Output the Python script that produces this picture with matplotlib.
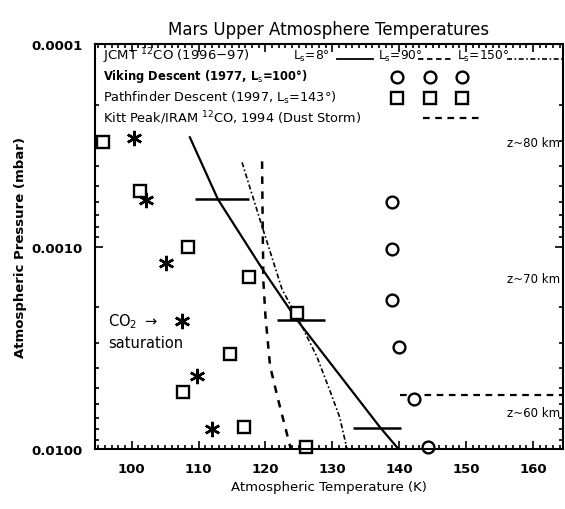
import matplotlib
matplotlib.use("Agg")
import matplotlib.pyplot as plt
from matplotlib.lines import Line2D
from matplotlib.ticker import FixedLocator, FixedFormatter, LogLocator, NullFormatter, MultipleLocator

# ---------------- data ----------------
# JCMT 12CO profiles
jcmt8_T = [108.7, 112.9, 119.6, 124.7, 137.1, 139.9]
jcmt8_P = [2.89e-4, 5.85e-4, 1.30e-3, 2.30e-3, 7.78e-3, 1.0e-2]

jcmt90_T = [119.5, 119.6, 119.7, 120.0, 120.7, 121.9, 123.8]
jcmt90_P = [3.8e-4, 8.5e-4, 1.5e-3, 2.2e-3, 3.9e-3, 5.7e-3, 1.0e-2]

jcmt150_T = [116.5, 119.5, 122.5, 125.2, 127.7, 129.6, 131.1, 132.2]
jcmt150_P = [3.84e-4, 7.96e-4, 1.63e-3, 2.38e-3, 3.50e-3, 5.11e-3, 6.95e-3, 1.0e-2]

# error bars on JCMT Ls=8 profile
err_T = [113.5, 125.3, 136.7]
err_P = [5.85e-4, 2.30e-3, 7.87e-3]
err_dT = [4.1, 3.6, 3.65]

# Viking descent
viking_T = [138.9, 138.9, 138.9, 140.0, 142.2, 144.3]
viking_P = [6.0e-4, 1.03e-3, 1.83e-3, 3.13e-3, 5.65e-3, 9.8e-3]

# Pathfinder descent
pf_T = [95.7, 101.2, 108.4, 117.5, 124.7, 114.7, 107.6, 116.8, 126.0]
pf_P = [3.06e-4, 5.3e-4, 1.01e-3, 1.41e-3, 2.12e-3, 3.39e-3, 5.2e-3, 7.8e-3, 9.8e-3]

# CO2 saturation
sat_T = [100.4, 102.2, 105.1, 107.5, 109.7, 112.0]
sat_P = [2.9e-4, 5.9e-4, 1.21e-3, 2.32e-3, 4.35e-3, 7.95e-3]

# Kitt Peak / IRAM dust storm
kp_T = [140.1, 165.0]
kp_P = [5.4e-3, 5.4e-3]

ytick_vals = [1e-4, 1e-3, 1e-2]
ytick_labels = ["0.0001", "0.0010", "0.0100"]
xtick_vals = [100, 110, 120, 130, 140, 150, 160]

# ---------------- figure ----------------
plt.rcParams['font.family'] = ['DejaVu Sans']
fig = plt.figure(figsize=(5.65, 5.10), dpi=100)
ax = fig.add_axes([0.168, 0.1176, 0.8284, 0.7942])

ax.set_yscale('log')
ax.set_xlim(94.5, 164.5)
ax.set_ylim(1e-2, 1e-4)

k = 'black'
ax.plot(jcmt8_T, jcmt8_P, color=k, lw=1.6, ls='-')
ax.plot(jcmt90_T, jcmt90_P, color=k, lw=1.8, ls=(0, (3, 3)))
ax.plot(jcmt150_T, jcmt150_P, color=k, lw=1.2, ls=(0, (3, 1.5, 1, 1.5)))
ax.errorbar(err_T, err_P, xerr=err_dT, fmt='none', ecolor=k, elinewidth=1.8, capsize=0)
ax.plot(kp_T, kp_P, color=k, lw=1.6, ls=(0, (3, 2.5)))

ax.plot(viking_T, viking_P, ls='none', marker='o', ms=8.5, mfc='white', mec=k, mew=1.7, clip_on=False)
ax.plot(pf_T, pf_P, ls='none', marker='s', ms=8.5, mfc='white', mec=k, mew=1.7, clip_on=False)
ax.plot(sat_T, sat_P, ls='none', marker=(6, 2, 0), ms=11, mec=k, mew=1.8)

# ---------------- ticks ----------------
ax.yaxis.set_major_locator(FixedLocator(ytick_vals))
ax.yaxis.set_major_formatter(FixedFormatter(ytick_labels))
ax.yaxis.set_minor_locator(LogLocator(base=10, subs=range(2, 10)))
ax.yaxis.set_minor_formatter(NullFormatter())
ax.xaxis.set_major_locator(FixedLocator(xtick_vals))
ax.xaxis.set_minor_locator(MultipleLocator(1))
ax.tick_params(which='both', direction='in', top=True, right=True, width=1.2, color=k)
ax.tick_params(which='major', length=6, labelsize=9.5, pad=9)
ax.tick_params(which='minor', length=3)
for lab in ax.get_xticklabels() + ax.get_yticklabels():
    lab.set_fontweight('bold')
for s in ax.spines.values():
    s.set_linewidth(1.5)

ax.set_xlabel("Atmospheric Temperature (K)", fontsize=9.5, labelpad=4)
ax.set_ylabel("Atmospheric Pressure (mbar)", fontsize=9.5, fontweight='bold')
ax.yaxis.set_label_coords(-0.145, 0.5)
ax.set_title("Mars Upper Atmosphere Temperatures", fontsize=12, pad=7)

# ---------------- legend block ----------------
tA = ax.transAxes
ax.text(0.017, 0.972, r"JCMT $^{12}$CO (1996$-$97)", transform=tA, fontsize=9.5, va='center')
ax.text(0.423, 0.972, r"L$_\mathrm{s}$=8°", transform=tA, fontsize=8.8, va='center')
ax.add_line(Line2D([0.517, 0.594], [0.964, 0.964], transform=tA, color=k, lw=1.3))
ax.text(0.605, 0.972, r"L$_\mathrm{s}$=90°", transform=tA, fontsize=8.8, va='center')
ax.add_line(Line2D([0.690, 0.763], [0.964, 0.964], transform=tA, color=k, lw=1.3, ls=(0, (3, 2))))
ax.text(0.774, 0.972, r"L$_\mathrm{s}$=150°", transform=tA, fontsize=8.8, va='center')
ax.add_line(Line2D([0.880, 1.0], [0.964, 0.964], transform=tA, color=k, lw=1.2, ls=(0, (3, 1.5, 1, 1.5))))

ax.text(0.017, 0.921, r"Viking Descent (1977, L$_\mathrm{s}$=100°)", transform=tA, fontsize=8.3,
        fontweight='bold', va='center')
ax.text(0.017, 0.869, r"Pathfinder Descent (1997, L$_\mathrm{s}$=143°)", transform=tA, fontsize=9.3,
        va='center')
ax.text(0.017, 0.820, r"Kitt Peak/IRAM $^{12}$CO, 1994 (Dust Storm)", transform=tA, fontsize=9.3,
        va='center')
for xa in (0.645, 0.716, 0.784):
    ax.add_line(Line2D([xa], [0.918], transform=tA, ls='none', marker='o', ms=8.5,
                       mfc='white', mec=k, mew=1.7))
    ax.add_line(Line2D([xa], [0.866], transform=tA, ls='none', marker='s', ms=8.5,
                       mfc='white', mec=k, mew=1.7))
ax.add_line(Line2D([0.701, 0.829], [0.818, 0.818], transform=tA, color=k, lw=1.6, ls=(0, (3, 2.5))))

# altitude annotations
ax.text(0.993, 0.756, "z~80 km", transform=tA, fontsize=8.5, ha='right', va='center')
ax.text(0.993, 0.420, "z~70 km", transform=tA, fontsize=8.5, ha='right', va='center')
ax.text(0.993, 0.091, "z~60 km", transform=tA, fontsize=8.5, ha='right', va='center')

ax.text(0.028, 0.318, r"CO$_2$ $\rightarrow$", transform=tA, fontsize=10.5, va='center')
ax.text(0.028, 0.262, "saturation", transform=tA, fontsize=10.5, va='center')

fig.savefig("out.png", dpi=100)
